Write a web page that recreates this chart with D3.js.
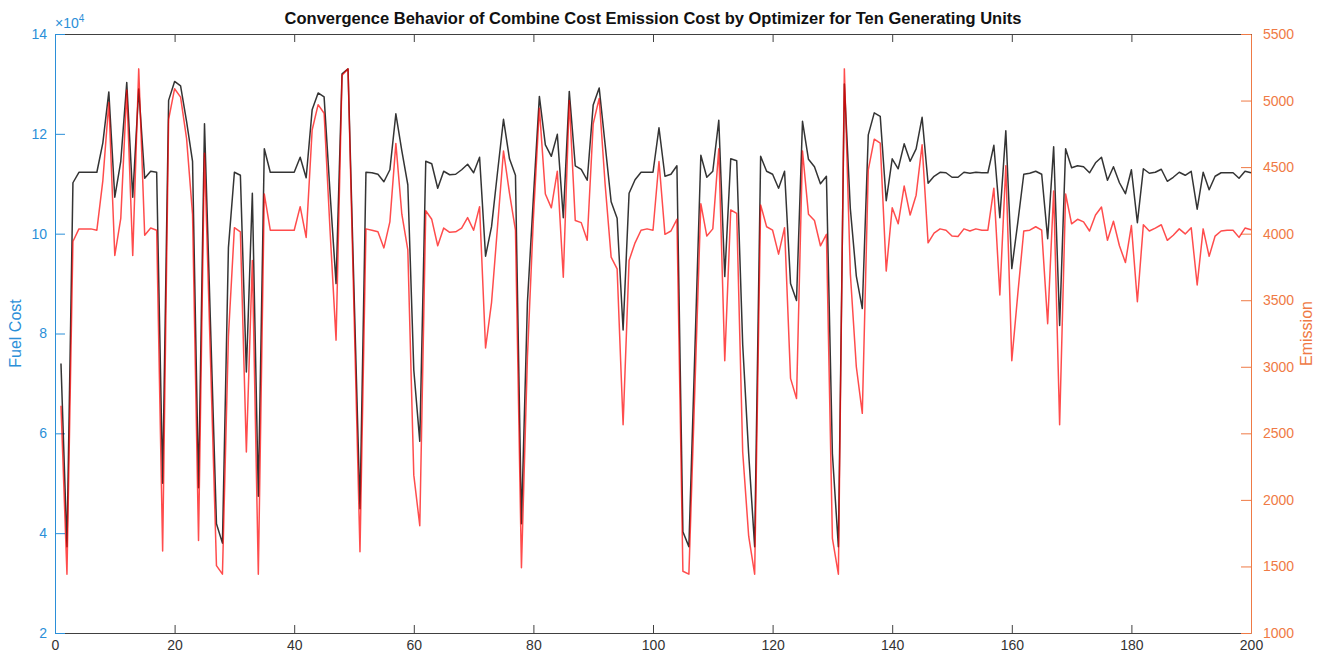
<!DOCTYPE html>
<html>
<head>
<meta charset="utf-8">
<script src="https://cdn.jsdelivr.net/npm/d3@7"></script>
<style>
  body { margin: 0; background: #fff; font-family: "Liberation Sans", Arial, sans-serif; }
</style>
</head>
<body>
<div id="chart"></div>
<script>
// fuel cost per iteration, in units of 10^4
const fuelCost = [
  7.40, 3.73, 11.02, 11.23, 11.23, 11.23, 11.23, 11.82, 12.84, 10.73,
  11.45, 13.03, 10.73, 12.90, 11.11, 11.25, 11.23, 5.00, 12.67, 13.05,
  12.96, 12.25, 11.45, 4.91, 12.20, 8.20, 4.19, 3.80, 9.72, 11.23,
  11.17, 7.23, 10.81, 4.74, 11.70, 11.23, 11.23, 11.23, 11.23, 11.23,
  11.53, 11.12, 12.48, 12.82, 12.74, 10.81, 9.00, 13.20, 13.30, 8.87,
  4.49, 11.23, 11.22, 11.19, 11.04, 11.28, 12.40, 11.66, 10.98, 7.27,
  5.84, 11.45, 11.40, 10.91, 11.25, 11.18, 11.19, 11.28, 11.39, 11.22,
  11.53, 9.55, 10.14, 11.23, 12.29, 11.50, 11.17, 4.19, 8.62, 10.73,
  12.75, 11.78, 11.55, 11.99, 10.32, 12.85, 11.36, 11.29, 11.07, 12.58,
  12.92, 11.78, 10.64, 10.31, 8.07, 10.81, 11.08, 11.23, 11.23, 11.23,
  12.12, 11.15, 11.19, 11.36, 4.03, 3.73, 7.65, 11.57, 11.13, 11.25,
  12.27, 9.14, 11.50, 11.46, 7.78, 5.59, 3.73, 11.55, 11.25, 11.19,
  10.91, 11.25, 9.00, 8.66, 12.25, 11.49, 11.34, 11.00, 11.15, 5.59,
  3.73, 13.00, 10.50, 9.15, 8.50, 11.98, 12.42, 12.35, 10.66, 11.50,
  11.30, 11.80, 11.45, 11.70, 12.33, 11.01, 11.15, 11.23, 11.22, 11.13,
  11.13, 11.23, 11.21, 11.23, 11.22, 11.22, 11.77, 10.32, 12.06, 9.30,
  10.22, 11.19, 11.21, 11.25, 11.19, 9.90, 11.74, 8.16, 11.70, 11.32,
  11.36, 11.34, 11.22, 11.42, 11.53, 11.07, 11.34, 11.02, 10.80, 11.28,
  10.22, 11.30, 11.21, 11.23, 11.29, 11.05, 11.13, 11.23, 11.17, 11.25,
  10.49, 11.23, 10.88, 11.15, 11.22, 11.22, 11.22, 11.11, 11.25, 11.22
];

const emission = [
  2707, 1442, 3941, 4036, 4036, 4036, 4026, 4399, 4985, 3836,
  4115, 5079, 3836, 5238, 3988, 4042, 4026, 1616, 4858, 5089,
  5026, 4716, 4146, 1695, 4605, 3055, 1506, 1442, 3229, 4045,
  4014, 2360, 3799, 1442, 4298, 4026, 4026, 4026, 4026, 4026,
  4203, 3972, 4779, 4969, 4905, 4020, 3200, 5190, 5238, 3419,
  1610, 4036, 4026, 4014, 3893, 4089, 4678, 4146, 3878, 2186,
  1806, 4172, 4108, 3909, 4042, 4010, 4014, 4042, 4121, 4026,
  4203, 3141, 3482, 4052, 4621, 4305, 4026, 1490, 3071, 4115,
  4943, 4298, 4194, 4469, 3672, 5000, 4099, 4083, 3950, 4826,
  5016, 4368, 3824, 3735, 2565, 3799, 3931, 4026, 4036, 4026,
  4542, 3995, 4020, 4108, 1464, 1442, 2834, 4225, 3982, 4036,
  4637, 3046, 4178, 4153, 2360, 1727, 1442, 4216, 4052, 4026,
  3846, 4045, 2913, 2761, 4621, 4146, 4099, 3909, 3995, 1711,
  1442, 5238, 3700, 3000, 2650, 4480, 4710, 4680, 3719, 4194,
  4074, 4358, 4140, 4289, 4668, 3931, 4004, 4036, 4026, 3982,
  3979, 4036, 4020, 4036, 4026, 4026, 4342, 3539, 4510, 3046,
  3546, 4020, 4026, 4052, 4026, 3324, 4320, 2565, 4298, 4074,
  4108, 4089, 4020, 4140, 4200, 3950, 4093, 3909, 3783, 4061,
  3489, 4067, 4020, 4042, 4067, 3950, 3988, 4036, 3998, 4045,
  3615, 4036, 3830, 3982, 4020, 4026, 4026, 3972, 4042, 4029
];

const xTicks = [0, 20, 40, 60, 80, 100, 120, 140, 160, 180, 200];
const fuelTicks = [2, 4, 6, 8, 10, 12, 14];
const emissionTicks = [1000, 1500, 2000, 2500, 3000, 3500, 4000, 4500, 5000, 5500];

const titleText = "Convergence Behavior of Combine Cost Emission Cost by Optimizer for Ten Generating Units";

const width = 1322, height = 659;
const margin = { top: 34, right: 71, bottom: 26, left: 55 };
const blue = "#2b8fd8", orange = "#ef7a45", axisGray = "#404040";
const fontFam = "Liberation Sans, Arial, sans-serif";

const svg = d3.select("#chart").append("svg")
  .attr("width", width)
  .attr("height", height);

const x = d3.scaleLinear().domain([0, 200]).range([margin.left, width - margin.right]);
const yFuel = d3.scaleLinear().domain([2, 14]).range([height - margin.bottom, margin.top]);
const yEm = d3.scaleLinear().domain([1000, 5500]).range([height - margin.bottom, margin.top]);

// Ejes x (abajo y arriba)
svg.append("g")
  .attr("transform", `translate(0,${height - margin.bottom})`)
  .call(d3.axisBottom(x).tickValues(xTicks).tickFormat(d3.format("d"))
    .tickSizeInner(-8).tickSizeOuter(0).tickPadding(7))
  .call(g => {
    g.select(".domain").attr("stroke", axisGray);
    g.selectAll(".tick line").attr("stroke", axisGray);
    g.selectAll(".tick text").attr("fill", "#333").attr("font-size", 14).attr("font-family", fontFam);
  });

svg.append("g")
  .attr("transform", `translate(0,${margin.top})`)
  .call(d3.axisTop(x).tickValues(xTicks).tickSizeInner(-8).tickSizeOuter(0).tickFormat(""))
  .call(g => {
    g.select(".domain").attr("stroke", axisGray);
    g.selectAll(".tick line").attr("stroke", axisGray);
  });

// Eje izquierdo (Fuel Cost)
svg.append("g")
  .attr("transform", `translate(${margin.left},0)`)
  .call(d3.axisLeft(yFuel).tickValues(fuelTicks).tickFormat(d3.format("d"))
    .tickSizeInner(-10).tickSizeOuter(0).tickPadding(8))
  .call(g => {
    g.select(".domain").attr("stroke", blue);
    g.selectAll(".tick line").attr("stroke", blue);
    g.selectAll(".tick text").attr("fill", blue).attr("font-size", 14).attr("font-family", fontFam);
  });

// Eje derecho (Emission)
svg.append("g")
  .attr("transform", `translate(${width - margin.right},0)`)
  .call(d3.axisRight(yEm).tickValues(emissionTicks).tickFormat(d3.format("d"))
    .tickSizeInner(-10).tickSizeOuter(0).tickPadding(12))
  .call(g => {
    g.select(".domain").attr("stroke", orange);
    g.selectAll(".tick line").attr("stroke", orange);
    g.selectAll(".tick text").attr("fill", orange).attr("font-size", 14).attr("font-family", fontFam);
  });

// Lineas
const fuelLine = d3.line().x((d, i) => x(i + 1)).y(d => yFuel(d));
const emLine = d3.line().x((d, i) => x(i + 1)).y(d => yEm(d));

svg.append("path")
  .datum(fuelCost)
  .attr("fill", "none")
  .attr("stroke", "#111")
  .attr("stroke-opacity", 0.85)
  .attr("stroke-width", 1.5)
  .attr("stroke-linejoin", "round")
  .attr("d", fuelLine);

svg.append("path")
  .datum(emission)
  .attr("fill", "none")
  .attr("stroke", "#ff0000")
  .attr("stroke-opacity", 0.7)
  .attr("stroke-width", 1.5)
  .attr("stroke-linejoin", "round")
  .attr("d", emLine);

// Titulo y etiquetas
svg.append("text")
  .attr("x", (margin.left + width - margin.right) / 2)
  .attr("y", 24)
  .attr("text-anchor", "middle")
  .attr("font-size", 16.5)
  .attr("font-weight", "bold")
  .attr("fill", "#111")
  .text(titleText);

const expo = svg.append("text")
  .attr("x", margin.left)
  .attr("y", 28)
  .attr("fill", blue)
  .attr("font-size", 14);
expo.append("tspan").text("\u00d710");
expo.append("tspan").attr("dy", -6).attr("font-size", 10).text("4");

svg.append("text")
  .attr("transform", `translate(21,${(margin.top + height - margin.bottom) / 2}) rotate(-90)`)
  .attr("text-anchor", "middle")
  .attr("fill", blue)
  .attr("font-size", 16)
  .text("Fuel Cost");

svg.append("text")
  .attr("transform", `translate(1312,${(margin.top + height - margin.bottom) / 2}) rotate(-90)`)
  .attr("text-anchor", "middle")
  .attr("fill", orange)
  .attr("font-size", 16)
  .text("Emission");
</script>
</body>
</html>
